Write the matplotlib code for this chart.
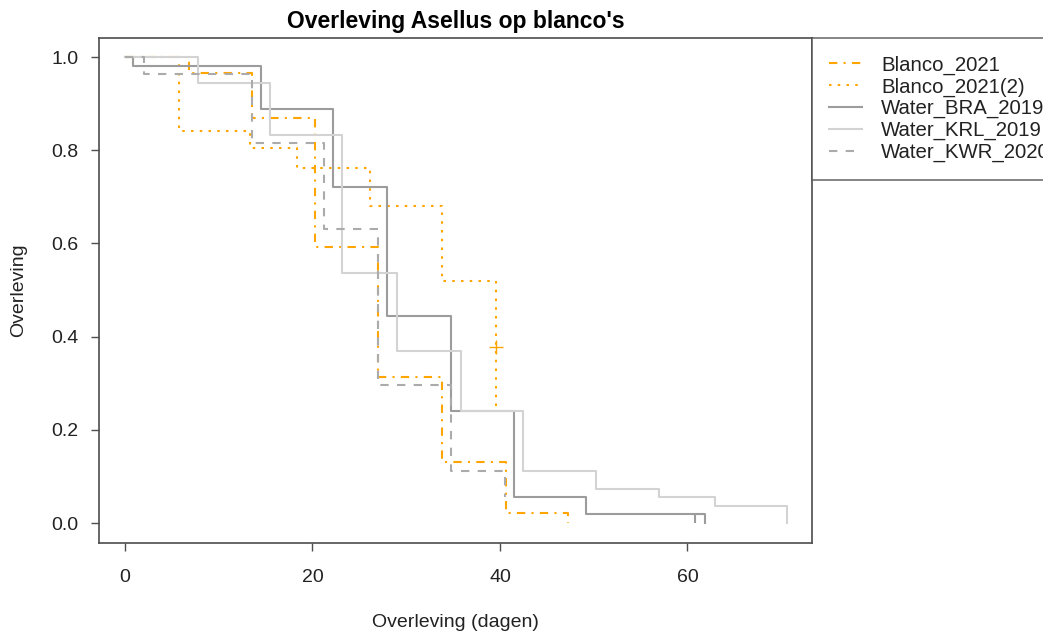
import matplotlib
matplotlib.use('Agg')
import matplotlib.pyplot as plt

plt.rcParams['font.family'] = ['Liberation Sans', 'DejaVu Sans']

# Kaplan-Meier steps: day of each drop (first entry = start) and survival after it
blanco_days = [0, 6.8, 13.5, 20.3, 27.0, 33.8, 40.6, 47.3]
blanco_surv = [1.0, 0.965, 0.870, 0.593, 0.314, 0.130, 0.022, 0.0]

blanco2_days = [0, 5.8, 13.3, 18.3, 26.1, 33.8, 39.6]
blanco2_surv = [1.0, 0.842, 0.804, 0.761, 0.680, 0.520, 0.250]
blanco2_censor_days = [39.6]
blanco2_censor_surv = [0.378]

bra_days = [0, 0.9, 14.5, 22.2, 28.0, 34.8, 41.5, 49.2, 61.9]
bra_surv = [1.0, 0.981, 0.889, 0.722, 0.444, 0.241, 0.056, 0.0185, 0.0]
bra_tick_days = [60.8]

krl_days = [0, 7.8, 15.5, 23.2, 29.0, 35.8, 42.5, 50.2, 57.0, 62.9, 70.6]
krl_surv = [1.0, 0.944, 0.833, 0.537, 0.370, 0.241, 0.111, 0.074, 0.056, 0.037, 0.0]

kwr_days = [0, 2.0, 13.5, 21.2, 27.0, 34.8, 40.5]
kwr_surv = [1.0, 0.963, 0.815, 0.630, 0.296, 0.111, 0.056]

labels = ['Blanco_2021', 'Blanco_2021(2)', 'Water_BRA_2019', 'Water_KRL_2019', 'Water_KWR_2020']
x_ticks = [0, 20, 40, 60]
y_ticks = [0.0, 0.2, 0.4, 0.6, 0.8, 1.0]

ORANGE = '#ffa500'
BRA_COL = '#9c9c9c'
KRL_COL = '#d3d3d3'
KWR_COL = '#ababab'
LW = 1.5

fig = plt.figure(figsize=(10.43, 6.34), dpi=100)
ax = fig.add_axes([99 / 1043, 91 / 634, 713 / 1043, 505 / 634])

ax.step(blanco_days, blanco_surv, where='post', color=ORANGE, lw=LW,
        dashes=(4, 3, 1, 3), label=labels[0])
ax.step(blanco2_days, blanco2_surv, where='post', color=ORANGE, lw=LW,
        dashes=(1.2, 3), label=labels[1])
ax.plot(blanco2_censor_days, blanco2_censor_surv, marker='+', ls='none',
        color=ORANGE, ms=10, mew=1)
ax.step(bra_days, bra_surv, where='post', color=BRA_COL, lw=LW, label=labels[2])
ax.vlines(bra_tick_days, 0, bra_surv[-2], color=BRA_COL, lw=LW)
ax.step(krl_days, krl_surv, where='post', color=KRL_COL, lw=LW, label=labels[3])
ax.step(kwr_days, kwr_surv, where='post', color=KWR_COL, lw=LW,
        dashes=(4, 4), label=labels[4])

ax.set_xlim(-2.77, 73.28)
ax.set_ylim(-0.0429, 1.0408)
ax.set_xticks(x_ticks)
ax.set_yticks(y_ticks)
ax.set_yticklabels([f'{v:.1f}' for v in y_ticks])

for s in ax.spines.values():
    s.set_color('#4d4d4d')
    s.set_linewidth(1.2)
ax.tick_params(axis='both', length=6, width=1, color='#4d4d4d', labelsize=14,
               labelcolor='#222222')
ax.tick_params(axis='x', pad=13)
ax.tick_params(axis='y', pad=9)

ax.set_title("Overleving Asellus op blanco's", fontsize=16.5, fontweight='bold', pad=7)
ax.set_xlabel('Overleving (dagen)', fontsize=14, labelpad=20, color='#222222')
ax.set_ylabel('Overleving', fontsize=14, labelpad=17, color='#222222')

leg = ax.legend(loc='upper left', bbox_to_anchor=(1.0, 1.0), borderaxespad=0,
                fontsize=14.7, frameon=True, fancybox=False, handlelength=1.6,
                handletextpad=0.94, labelspacing=0.13, borderpad=0.85)
leg.get_frame().set_edgecolor('#4d4d4d')
leg.get_frame().set_linewidth(1.2)
for t in leg.get_texts():
    t.set_color('#222222')

fig.savefig('out.png', dpi=100)
